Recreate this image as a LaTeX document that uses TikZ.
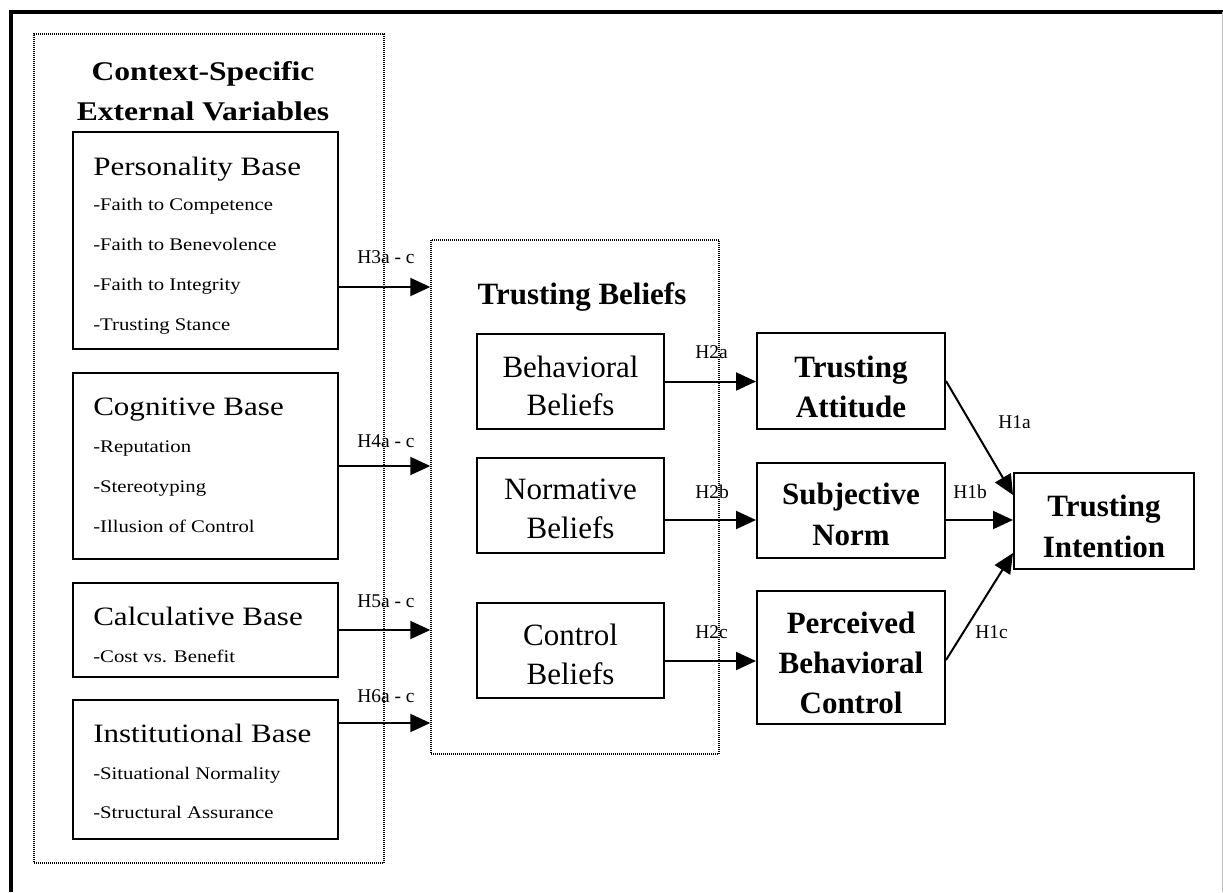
\documentclass[tikz,border=0pt]{standalone}
\usepackage{fontspec}
\setmainfont{Liberation Serif}
\newfontfamily\widefont{Liberation Serif}[FakeStretch=1.17]
\usetikzlibrary{arrows.meta,fit,calc}
% stacked lines whose reference point is the baseline of the first line
\newcommand\rows[2][c]{\begin{tabular}[t]{@{}#1@{}}#2\end{tabular}}
\newcommand\fs[2]{\fontsize{#1}{#2}\selectfont}

\begin{document}
\begin{tikzpicture}[x=0.75pt,y=-0.75pt,
  box/.style={draw, line width=1.5pt, inner sep=0pt},
  dotbox/.style={draw, line width=1.1pt, dash pattern=on 0.75pt off 0.75pt, inner sep=0pt},
  arr/.style={line width=1.5pt, -{Triangle[length=15pt,width=13.5pt]}},
  txt/.style={inner sep=0pt, anchor=base},
  txtl/.style={inner sep=0pt, anchor=base west},
  titletext/.style={txt, font=\widefont\bfseries\fs{20.25pt}{30pt}},
  headtext/.style={txtl, font=\widefont\fs{19.9pt}{24pt}},
  itemtext/.style={txtl, font=\widefont\fs{13.3pt}{#1}},
  itemtext/.default=30pt,
  bodytext/.style={txt, font=\fs{23.25pt}{#1}},
  bodytext/.default=30pt,
  boldtext/.style={txt, font=\bfseries\fs{23.25pt}{#1}},
  boldtext/.default=30pt,
  hyptext/.style={txtl, font=\fs{14.6pt}{18pt}},
]
\useasboundingbox (0,0) rectangle (1223,892);

% page frame
\draw[line width=3pt] (11,892) -- (11,12) -- (1223,12);
\draw[black!25, line width=0.75pt] (1222,12) -- (1222,892);

% context-specific external variables
\node[dotbox, fit={(34,34) (384,863)}] (ctx) {};
\node[titletext] (ctxt) at (203,80) {\rows{Context-Specific\\External Variables}};

\node[box, fit={(73,132) (338,349)}] (pb) {};
\node[headtext] (pbh) at (93,175) {Personality Base};
\node[itemtext=30.2pt] (pbi) at (93,210)
  {\rows[l]{-Faith to Competence\\-Faith to Benevolence\\-Faith to Integrity\\-Trusting Stance}};

\node[box, fit={(73,373) (338,559)}] (cgb) {};
\node[headtext] (cgbh) at (93,415) {Cognitive Base};
\node[itemtext] (cgbi) at (93,452)
  {\rows[l]{-Reputation\\-Stereotyping\\-Illusion of Control}};

\node[box, fit={(73,583) (338,677)}] (clb) {};
\node[headtext] (clbh) at (93,625) {Calculative Base};
\node[itemtext] (clbi) at (93,662) {-Cost vs. Benefit};

\node[box, fit={(73,700) (338,839)}] (ib) {};
\node[headtext] (ibh) at (93,742) {Institutional Base};
\node[itemtext=29.25pt] (ibi) at (93,779)
  {\rows[l]{-Situational Normality\\-Structural Assurance}};

% trusting beliefs
\node[dotbox, fit={(431,240) (719,754)}] (tb) {};
\node[boldtext] (tbt) at (582,304) {Trusting Beliefs};

\node[box, fit={(477,334) (664,429)}] (bb) {};
\node[bodytext=28.5pt] (bbt) at (570.5,377) {\rows{Behavioral\\Beliefs}};
\node[box, fit={(477,458) (664,553)}] (nb) {};
\node[bodytext=29.25pt] (nbt) at (570.5,499) {\rows{Normative\\Beliefs}};
\node[box, fit={(477,603) (664,698)}] (cb) {};
\node[bodytext=29.25pt] (cbt) at (570.5,645) {\rows{Control\\Beliefs}};

% attitude, norm, control and intention
\node[box, fit={(757,333) (945,429)}] (ta) {};
\node[boldtext] (tat) at (851,377) {\rows{Trusting\\Attitude}};
\node[box, fit={(757,463) (945,558)}] (sn) {};
\node[boldtext=30.75pt] (snt) at (851,504) {\rows{Subjective\\Norm}};
\node[box, fit={(757,591) (945,724)}] (pbc) {};
\node[boldtext] (pbct) at (851,633) {\rows{Perceived\\Behavioral\\Control}};
\node[box, fit={(1014,473) (1194,569)}] (ti) {};
\node[boldtext=30.75pt] (tit) at (1104,516) {\rows{Trusting\\Intention}};

% paths into trusting beliefs
\draw[arr] ($(pb.east)+(0,46.5)$) coordinate (s3) -- (tb.west |- s3);
\draw[arr] (cgb.east) -- (tb.west |- cgb.east);
\draw[arr] (clb.east) -- (tb.west |- clb.east);
\draw[arr] ($(ib.east)+(0,-46.5)$) coordinate (s6) -- (tb.west |- s6);
\node[hyptext] (h3) at (357,263) {H3a - c};
\node[hyptext] (h4) at (357,447) {H4a - c};
\node[hyptext] (h5) at (357,607) {H5a - c};
\node[hyptext] (h6) at (357,702) {H6a - c};

% beliefs to attitude, norm and control
\draw[arr] (bb.east) -- (ta.west |- bb.east);
\draw[arr] ($(nb.east)+(0,14.5)$) coordinate (s2b) -- (sn.west |- s2b);
\draw[arr] ($(cb.east)+(0,10.5)$) coordinate (s2c) -- (pbc.west |- s2c);
\node[hyptext] (h2a) at (695,358) {H2a};
\node[hyptext] (h2b) at (695,498) {H2b};
\node[hyptext] (h2c) at (695,638) {H2c};

% into trusting intention
\draw[arr] (ta.east) -- ($(ti.west)+(0,-26)$);
\draw[arr] (sn.east |- s2b) -- (ti.west |- s2b);
\draw[arr] ($(pbc.east)+(0,2.5)$) -- ($(ti.west)+(0,32)$);
\node[hyptext] (h1a) at (998,428) {H1a};
\node[hyptext] (h1b) at (953,498) {H1b};
\node[hyptext] (h1c) at (975,638) {H1c};
\end{tikzpicture}
\end{document}
